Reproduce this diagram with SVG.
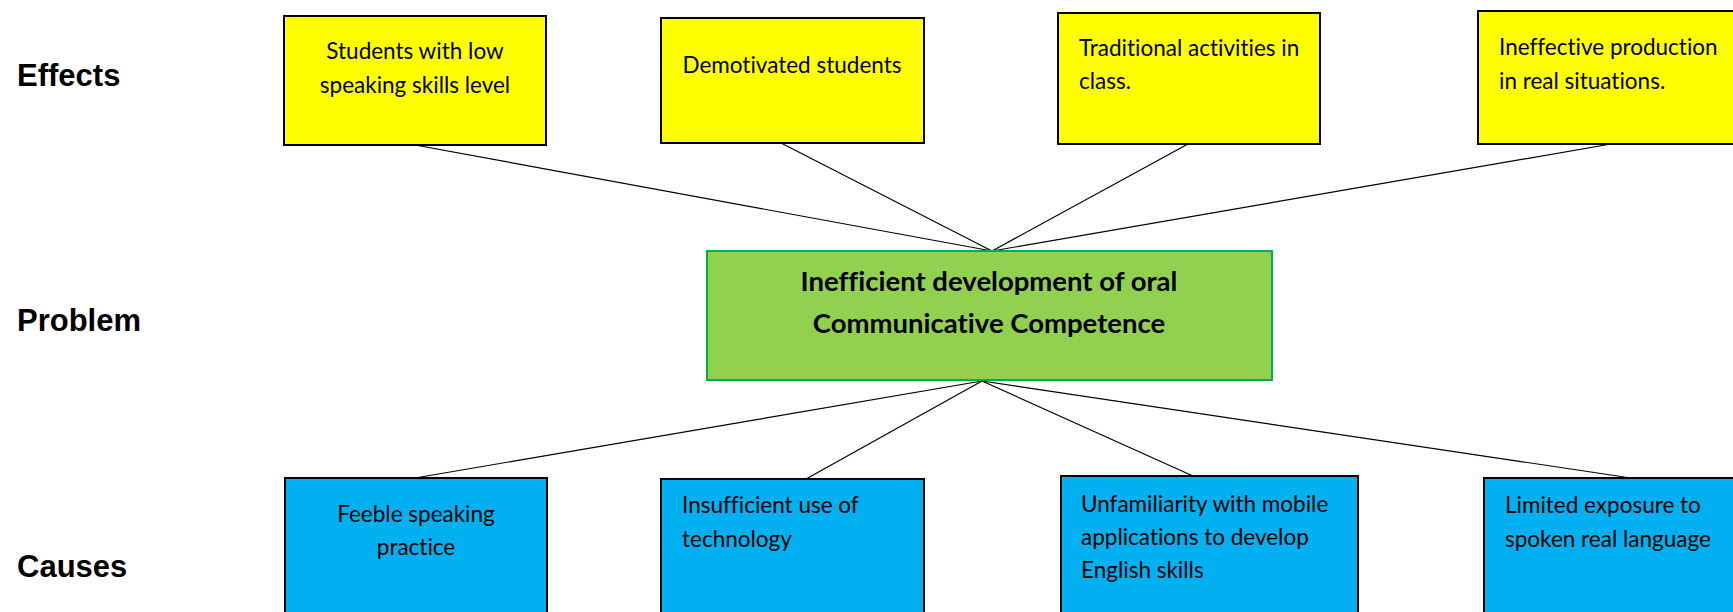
<svg xmlns="http://www.w3.org/2000/svg" width="1733" height="612" viewBox="0 0 1733 612">
  <style>
    .bg { fill: #ffffff; }
    .label { font-family: "Liberation Sans", Arial, sans-serif; font-weight: bold; font-size: 31px; fill: #000000; }
    .txt { font-family: Lato, "Open Sans", sans-serif; font-size: 22.5px; fill: #000000; font-variant-ligatures: none; font-feature-settings: "liga" 0, "dlig" 0; }
    .ttl { font-family: Lato, "Open Sans", sans-serif; font-weight: bold; font-size: 27.5px; fill: #000000; text-anchor: middle; font-variant-ligatures: none; font-feature-settings: "liga" 0, "dlig" 0; }
    .mid { text-anchor: middle; }
    .effect { fill: #ffff00; stroke: #000000; stroke-width: 2; }
    .cause { fill: #00b0f0; stroke: #000000; stroke-width: 2; }
    .problem { fill: #92d050; stroke: #00b050; stroke-width: 2; }
    .link { stroke: #000000; stroke-width: 1.2; fill: none; }
  </style>

  <rect class="bg" x="0" y="0" width="1733" height="612"/>

  <!-- row labels -->
  <g id="row-labels">
    <text class="label" x="17" y="86">Effects</text>
    <text class="label" x="17" y="331">Problem</text>
    <text class="label" x="17" y="577">Causes</text>
  </g>

  <!-- connectors -->
  <g id="connectors">
    <line class="link" x1="415" y1="145" x2="992" y2="251"/>
    <line class="link" x1="781" y1="143" x2="992" y2="251"/>
    <line class="link" x1="1188" y1="144" x2="992" y2="251"/>
    <line class="link" x1="1611" y1="144" x2="992" y2="251"/>
    <line class="link" x1="982" y1="381" x2="415" y2="478"/>
    <line class="link" x1="982" y1="381" x2="806" y2="479"/>
    <line class="link" x1="982" y1="381" x2="1193" y2="476"/>
    <line class="link" x1="982" y1="381" x2="1631" y2="478"/>
  </g>

  <!-- effects -->
  <g id="effect-1">
    <rect class="effect" x="284" y="16" width="262" height="129"/>
    <text class="txt mid" x="415" y="59">Students with low</text>
    <text class="txt mid" x="415" y="93">speaking skills level</text>
  </g>
  <g id="effect-2">
    <rect class="effect" x="661" y="18" width="263" height="125"/>
    <text class="txt mid" x="792" y="73">Demotivated students</text>
  </g>
  <g id="effect-3">
    <rect class="effect" x="1058" y="13" width="262" height="131"/>
    <text class="txt" x="1079" y="56">Traditional activities in</text>
    <text class="txt" x="1079" y="89">class.</text>
  </g>
  <g id="effect-4">
    <rect class="effect" x="1478" y="11" width="270" height="133"/>
    <text class="txt" x="1499" y="55">Ineffective production</text>
    <text class="txt" x="1499" y="89">in real situations.</text>
  </g>

  <!-- problem -->
  <g id="problem">
    <rect class="problem" x="707" y="251" width="565" height="129"/>
    <text class="ttl" x="989" y="291">Inefficient development of oral</text>
    <text class="ttl" x="989" y="333">Communicative Competence</text>
  </g>

  <!-- causes -->
  <g id="cause-1">
    <rect class="cause" x="285" y="478" width="262" height="150"/>
    <text class="txt mid" x="416" y="522">Feeble speaking</text>
    <text class="txt mid" x="416" y="555">practice</text>
  </g>
  <g id="cause-2">
    <rect class="cause" x="661" y="479" width="263" height="150"/>
    <text class="txt" x="682" y="513">Insufficient use of</text>
    <text class="txt" x="682" y="547">technology</text>
  </g>
  <g id="cause-3">
    <rect class="cause" x="1061" y="476" width="297" height="150"/>
    <text class="txt" x="1081" y="512">Unfamiliarity with mobile</text>
    <text class="txt" x="1081" y="545">applications to develop</text>
    <text class="txt" x="1081" y="578">English skills</text>
  </g>
  <g id="cause-4">
    <rect class="cause" x="1484" y="478" width="270" height="150"/>
    <text class="txt" x="1505" y="513">Limited exposure to</text>
    <text class="txt" x="1505" y="547">spoken real language</text>
  </g>
</svg>
